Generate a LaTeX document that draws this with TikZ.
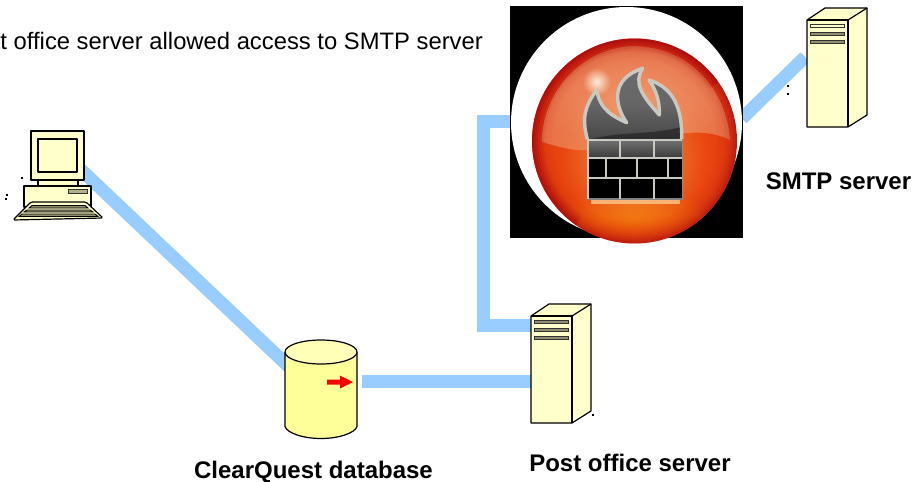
\documentclass[tikz,border=0pt]{standalone}
\usepackage{fontspec}
\setmainfont{Liberation Sans}
\usetikzlibrary{fadings}
\definecolor{link}{HTML}{99CCFF}
\definecolor{paleyel}{HTML}{FFFFCC}
\definecolor{dbyel}{HTML}{FFFF99}
\definecolor{slotgr}{HTML}{8F8F70}
\definecolor{wallgr}{HTML}{C9C9C2}
\definecolor{domec}{RGB}{238,160,120}
\definecolor{rimc}{RGB}{165,8,12}
\pgfdeclareradialshading{sphereglow}{\pgfpoint{0bp}{-6bp}}{
  rgb(0bp)=(0.92,0.50,0.20);
  rgb(10bp)=(0.92,0.42,0.15);
  rgb(18bp)=(0.91,0.27,0.06);
  rgb(26bp)=(0.88,0.22,0.08);
  rgb(32bp)=(0.80,0.18,0.16);
  rgb(50bp)=(0.76,0.16,0.16)}
\tikzfading[name=domefade, inner color=transparent!0, outer color=transparent!40]
\tikzfading[name=spotfade, inner color=transparent!0, outer color=transparent!100]
\tikzset{
  linkline/.style={draw=link, line width=13pt, line cap=butt, line join=miter},
  outline/.style={draw=black, line width=1.2pt, line join=round},
  label/.style={font=\fontsize{24}{28}\selectfont\bfseries, inner sep=0pt, text=black},
  plainlabel/.style={font=\fontsize{23.8}{28}\selectfont, inner sep=0pt, text=black},
  slot/.style={draw=black!80, line width=.9pt, fill=slotgr},
  speck/.style={fill=black, inner sep=0pt, minimum size=1.2pt},
  anchorbox/.style={inner sep=0pt, draw=none},
  wallline/.style={draw=wallgr, line width=2.3pt},
}
% #1 name, #2 front-left x, #3 front-top y, #4 first slot colour
\newcommand{\serverbox}[4]{%
  \begin{scope}[shift={(#2,#3)}]
    \fill[paleyel] (0,0) -- (18,-12) -- (60,-12) -- (60,95) -- (41,107) -- (0,107) -- cycle;
    \draw[outline] (0,0) -- (18,-12) -- (60,-12) -- (60,95) -- (41,107) -- (0,107) -- cycle;
    \draw[outline] (0,0) -- (41,0) -- (41,107);
    \draw[outline] (41,0) -- (60,-12);
    \draw[slot, fill=#4] (3,4.6) rectangle (37,7.4);
    \draw[slot] (3,12.3) rectangle (37,15.1);
    \draw[slot] (3,20.3) rectangle (37,23.1);
    \node[anchorbox, minimum width=41pt, minimum height=107pt, anchor=north west] (#1) at (0,0) {};
  \end{scope}}
\begin{document}
\begin{tikzpicture}[x=1pt,y=-1pt]
\useasboundingbox (0,0) rectangle (914,482);
\fill[white] (0,0) rectangle (914,482);

% anchors of shapes
\node[anchorbox, minimum width=67pt, minimum height=89pt] (pc) at (57,175) {};
\node[anchorbox, minimum width=72pt, minimum height=98pt] (db) at (321,389) {};
\node[anchorbox, minimum width=233pt, minimum height=232pt] (fw) at (626,122) {};
\coordinate (pcEnd) at (70,159.3);
\coordinate (dbIn) at (295,372.5);
\coordinate (dbOut) at (362,381);
\coordinate (postIn) at (535,381);
\coordinate (postTop) at (535,325.5);
\coordinate (elbow) at (483.5,325.5);
\coordinate (elbowTop) at (483.5,121.5);
\coordinate (fwIn) at (515,121.5);
\coordinate (fwOut) at (742,118.5);
\coordinate (smtpIn) at (805,57);

% connectors
\draw[linkline] (pcEnd) -- (dbIn);
\draw[linkline] (dbOut) -- (postIn);
\draw[linkline] (fwIn) -- (elbowTop) -- (elbow) -- (postTop);
\draw[linkline] (fwOut) -- (smtpIn);

% workstation
\begin{scope}
  \draw[outline, fill=paleyel] (31,131) rectangle (84,180);
  \draw[outline, fill=paleyel] (38,139) rectangle (77,172);
  \draw[outline, fill=paleyel] (38,180) rectangle (78,186);
  \draw[outline, fill=paleyel] (24,186) rectangle (91,207);
  \draw[slot, fill=slotgr!70!paleyel] (68,189.5) rectangle (87,193);
  \draw[outline, fill=paleyel, rounded corners=1.5pt] (31,202) -- (86,202) -- (103,218) -- (13,220) -- cycle;
  \draw[draw=black, line width=.9pt, fill=slotgr] (32,205.5) -- (85,205.5) -- (88,208) -- (29,208) -- cycle;
  \draw[draw=black, line width=.9pt, fill=slotgr] (27,210) -- (90,210) -- (93,212) -- (24,212) -- cycle;
  \draw[draw=black, line width=.9pt, fill=slotgr] (22,214) -- (95,214) -- (98,216.5) -- (19,216.5) -- cycle;
\end{scope}

% database
\fill[dbyel] (285,352) -- (285,426) arc[start angle=180, end angle=360, x radius=36, y radius=-12] -- (357,352) -- cycle;
\draw[outline] (285,352) -- (285,426.5) .. controls (287,433) and (303,438.5) .. (321,438.5) .. controls (339,438.5) and (355,433) .. (357,426.5) -- (357,352);
\draw[outline, fill=paleyel!60!dbyel] (321,352) ellipse[x radius=36, y radius=12];
\fill[red] (327,379.7) -- (340,379.7) -- (340,375.5) -- (353,382) -- (340,388.5) -- (340,384.5) -- (327,384.5) -- cycle;

% servers
\serverbox{post}{531}{316}{slotgr}
\serverbox{smtp}{807}{20}{paleyel}

% firewall
\fill[black] (510,6) rectangle (743,238);
\fill[white] (626.5,122.5) circle[radius=115.5];
\begin{scope}[shift={(500,0)},x=.33333pt,y=-.33333pt]
  \shade[shading=sphereglow] (403.5,423) circle[radius=307.5];
  \begin{scope}
    \clip (403.5,423) circle[radius=307.5];
    % glass dome
    \fill[color=domec, opacity=.9, path fading=domefade, fit fading=true]
      (125,425) .. controls (130,250) and (270,140) .. (400,138) .. controls (570,140) and (680,270) .. (690,420)
      .. controls (640,395) and (590,395) .. (530,402) .. controls (420,425) and (320,455) .. (230,450) .. controls (190,445) and (155,435) .. (125,425) -- cycle;
    % bottom sheen
    \fill[color=orange!70!yellow, opacity=.4, path fading=spotfade] (405,650) ellipse[x radius=260, y radius=70];
    % darkening rim
    \foreach \rk/\ro in {0/.55,1/.42,2/.32,3/.24,4/.17,5/.12,6/.08,7/.05,8/.03,9/.02} {
      \draw[color=rimc, opacity=\ro, line width=2.2pt] (403.5,423) circle[radius={305-\rk*6}];
    }
    % extra shade on the right and at the bottom
    \foreach \rk/\ro in {0/.5,1/.4,2/.3,3/.2,4/.12,5/.06} {
      \draw[color=rimc, opacity=\ro, line width=2.2pt] (403.5,423) ++(-35:{305-\rk*6}) arc[start angle=-35, end angle=-235, radius={305-\rk*6}];
    }
  \end{scope}
  \fill[white!90!orange, path fading=spotfade, opacity=.95] (290,245) circle[radius=42];
  \fill[color=white!55!orange, opacity=.8] (272,598) rectangle (540,612);
  % flame
  \path[top color=black!58, bottom color=black!72, middle color=black!60]
    (262,418) .. controls (250,370) and (245,330) .. (290,270)
    .. controls (300,330) and (340,350) .. (380,368)
    .. controls (340,310) and (335,235) .. (428,205)
    .. controls (400,250) and (425,285) .. (478,345)
    .. controls (480,300) and (465,265) .. (447,240)
    .. controls (510,260) and (548,310) .. (545,418) -- cycle;
  \fill[black!85, opacity=.75] (270,418) .. controls (350,395) and (450,405) .. (540,382) -- (540,418) -- cycle;
  \draw[color=wallgr, line width=3.4pt, line join=round]
    (262,418) .. controls (250,370) and (245,330) .. (290,270)
    .. controls (300,330) and (340,350) .. (380,368)
    .. controls (340,310) and (335,235) .. (428,205)
    .. controls (400,250) and (425,285) .. (478,345)
    .. controls (480,300) and (465,265) .. (447,240)
    .. controls (510,260) and (548,310) .. (545,418);
  % wall
  \shade[top color=black!55, bottom color=black, middle color=black!90] (262,418) rectangle (548,598);
  \fill[black] (262,476) rectangle (548,598);
  \draw[wallline] (262,420) -- (548,420);
  \draw[wallline] (262,473) -- (548,473);
  \draw[wallline] (262,535) -- (548,535);
  \draw[color=black!50, line width=2pt] (262,598) -- (548,598);
  \draw[color=wallgr, line width=2.8pt] (264,418) -- (264,596);
  \draw[color=black!45, line width=1.5pt] (547,418) -- (547,598);
  \foreach \vx in {360,462} {\draw[wallline] (\vx,420) -- (\vx,473); \draw[wallline] (\vx,535) -- (\vx,596);}
  \foreach \vx in {318,410,503} {\draw[wallline] (\vx,473) -- (\vx,535);}
\end{scope}

% specks
\foreach \sx/\sy [count=\si] in {22/178,7/195,6/199,788/86,788/94,593/415} {\node[speck] (sp\si) at (\sx,\sy) {};}

% labels
\node[plainlabel, anchor=base east] (note) at (483,49) {t office server allowed access to SMTP server};
\node[label, anchor=base] (smtplabel) at (838.5,189) {SMTP server};
\node[label, anchor=base] (postlabel) at (630,471) {Post office server};
\node[label, anchor=base] (dblabel) at (313.5,478) {ClearQuest database};
\end{tikzpicture}
\end{document}
